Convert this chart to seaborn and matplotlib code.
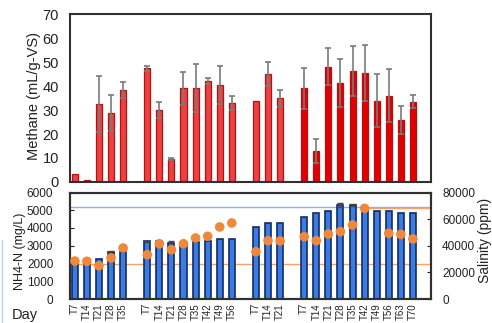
import numpy as np
import pandas as pd
import matplotlib
matplotlib.use("Agg")
import matplotlib.pyplot as plt
from matplotlib.lines import Line2D
import seaborn as sns

# Sampling days of the four reactor runs
days_1 = ["T7", "T14", "T21", "T28", "T35"]
days_2 = ["T7", "T14", "T21", "T28", "T35", "T42", "T49", "T56"]
days_3 = ["T7", "T14", "T21"]
days_4 = ["T7", "T14", "T21", "T28", "T35", "T42", "T49", "T56", "T63", "T70"]

# Methane yield (mL/g-VS) and standard deviation
methane = [3.2, 0.7, 32.5, 28.9, 38.3,
           47.4, 30.0, 9.4, 39.0, 39.0, 42.2, 40.4, 32.8,
           33.9, 45.0, 34.9,
           39.0, 13.0, 48.0, 41.4, 46.4, 45.3, 33.9, 36.0, 25.8, 33.5]
methane_sd = [0, 0, 11.5, 7.5, 3.5,
              1.0, 3.5, 0.4, 7.0, 10.0, 1.3, 8.0, 3.0,
              0, 5.0, 3.5,
              8.4, 5.0, 7.7, 10.0, 10.4, 11.6, 11.0, 11.0, 6.0, 2.8]

# NH4-N (mg/L) and standard deviation
nh4 = [2150, 2100, 2270, 2650, 2620,
       3250, 3270, 3155, 3170, 3195, 3250, 3400, 3400,
       4040, 4265, 4265,
       4640, 4860, 4940, 5300, 5300, 5110, 4960, 4960, 4860, 4860]
nh4_sd = [0, 0, 0, 40, 0,
          40, 0, 100, 0, 0, 0, 0, 0,
          0, 0, 0,
          0, 0, 0, 100, 60, 0, 0, 0, 0, 0]

# Salinity (ppm)
salinity = [28500, 28300, 25000, 30800, 38300,
            33300, 41500, 37000, 41500, 45800, 47100, 54100, 57100,
            35500, 43800, 43600,
            46800, 43800, 48800, 50600, 55600, 68100, np.nan, 49400, 48600, 45100]

# Reference levels
nh4_ref = 5200
salinity_ref_low = 26000
salinity_ref_high = 68000

run_names = ["Run 1", "Run 2", "Run 3", "Run 4"]
runs = [days_1, days_2, days_3, days_4]

# One slot per sample, with an empty slot between runs
rows = []
slot = 0
for name, days in zip(run_names, runs):
    for d in days:
        rows.append((name, d, slot))
        slot += 1
    slot += 1
df = pd.DataFrame(rows, columns=["run", "day", "slot"])
df["methane"] = methane
df["methane_sd"] = methane_sd
df["nh4"] = nh4
df["nh4_sd"] = nh4_sd
df["salinity"] = salinity

sns.set_style("white")
plt.rcParams["font.family"] = ["Liberation Sans", "DejaVu Sans"]

W, H = 492, 323
fig = plt.figure(figsize=(W / 100, H / 100), dpi=100)
ax_top = fig.add_axes([70 / W, 1 - 182 / H, 361 / W, 168 / H])
ax_bot = fig.add_axes([70 / W, 1 - 299 / H, 361 / W, 106.5 / H])

xlim = (-0.4, slot - 1 + 0.5)

# Methane bars
top_palette = {"Run 1": "#ee4040", "Run 2": "#ee4040", "Run 3": "#ee4040", "Run 4": "#e30000"}
sns.barplot(data=df, x="slot", y="methane", hue="run", palette=top_palette,
            native_scale=True, dodge=False, width=0.5, saturation=1,
            edgecolor="#b81010", linewidth=0.9, errorbar=None, legend=False, ax=ax_top)
m = df["methane_sd"] > 0
ax_top.errorbar(df.loc[m, "slot"], df.loc[m, "methane"], yerr=df.loc[m, "methane_sd"],
                fmt="none", ecolor="#7a7a7a", elinewidth=1.2, capsize=2.5, capthick=1.2, zorder=4)
ax_top.set_xlim(xlim)
ax_top.set_ylim(0, 70)
ax_top.set_yticks(range(0, 71, 10))
ax_top.set_xticks([])
ax_top.set_xlabel("")
ax_top.set_ylabel("")
ax_top.tick_params(axis="y", length=0, labelsize=10.5, pad=8, colors="#222222")

# NH4-N bars
ax_bot.axhline(nh4_ref, color="#8db3e2", lw=1, zorder=0)
ax_bot.axhline(salinity_ref_low * 6000 / 80000, color="#f4a46a", lw=1, zorder=0)
sns.barplot(data=df, x="slot", y="nh4", native_scale=True, width=0.5, saturation=1,
            color="#3a7ce0", edgecolor="#132a6b", linewidth=1.2, errorbar=None, ax=ax_bot)
n = df["nh4_sd"] > 0
ax_bot.errorbar(df.loc[n, "slot"], df.loc[n, "nh4"], yerr=df.loc[n, "nh4_sd"],
                fmt="none", ecolor="#444444", elinewidth=1, capsize=2, capthick=1, zorder=4)
ax_bot.hlines(salinity_ref_high * 6000 / 80000, df.loc[df.index[-5], "slot"], xlim[1],
              color="#f4a46a", lw=1, zorder=1)
ax_bot.set_xlim(xlim)
ax_bot.set_ylim(0, 6000)
ax_bot.set_yticks(range(0, 6001, 1000))
ax_bot.set_xticks(df["slot"])
ax_bot.set_xticklabels(df["day"], rotation=90, fontsize=7)
ax_bot.set_xlabel("")
ax_bot.set_ylabel("")
ax_bot.tick_params(axis="x", length=0, pad=3, colors="#222222")
ax_bot.tick_params(axis="y", direction="in", length=3, labelsize=8.5, pad=12, colors="#222222")

# Salinity points on the secondary axis
ax2 = ax_bot.twinx()
sns.scatterplot(data=df, x="slot", y="salinity", color="#f0883c", s=48,
                edgecolor="none", legend=False, zorder=5, ax=ax2)
ax2.set_xlim(xlim)
ax2.set_ylim(0, 80000)
ax2.set_yticks(range(0, 80001, 20000))
ax2.set_ylabel("")
ax2.set_xlabel("")
ax2.tick_params(axis="y", direction="in", length=3, labelsize=8.5, pad=8, colors="#222222")

for ax in (ax_top, ax_bot, ax2):
    for sp in ax.spines.values():
        sp.set_visible(True)
        sp.set_color("#303030")
        sp.set_linewidth(1.5)

fig.text(34 / W, 1 - 96 / H, "Methane (mL/g-VS)", rotation=90, ha="center", va="center",
         fontsize=10.5, color="#222222")
fig.text(20 / W, 1 - 251 / H, "NH4-N (mg/L)", rotation=90, ha="center", va="center",
         fontsize=9, color="#222222")
fig.text(12 / W, 1 - 315 / H, "Day", ha="left", va="center", fontsize=10.5, color="#222222")
fig.text(478 / W, 1 - 240 / H, "Salinity (ppm)", rotation=90, ha="left", va="center",
         fontsize=10, color="#222222")
fig.add_artist(Line2D([2 / W, 2 / W], [0, 1 - 240 / H], color="#bcd3ee", lw=1))

fig.savefig("out.png", dpi=100)
